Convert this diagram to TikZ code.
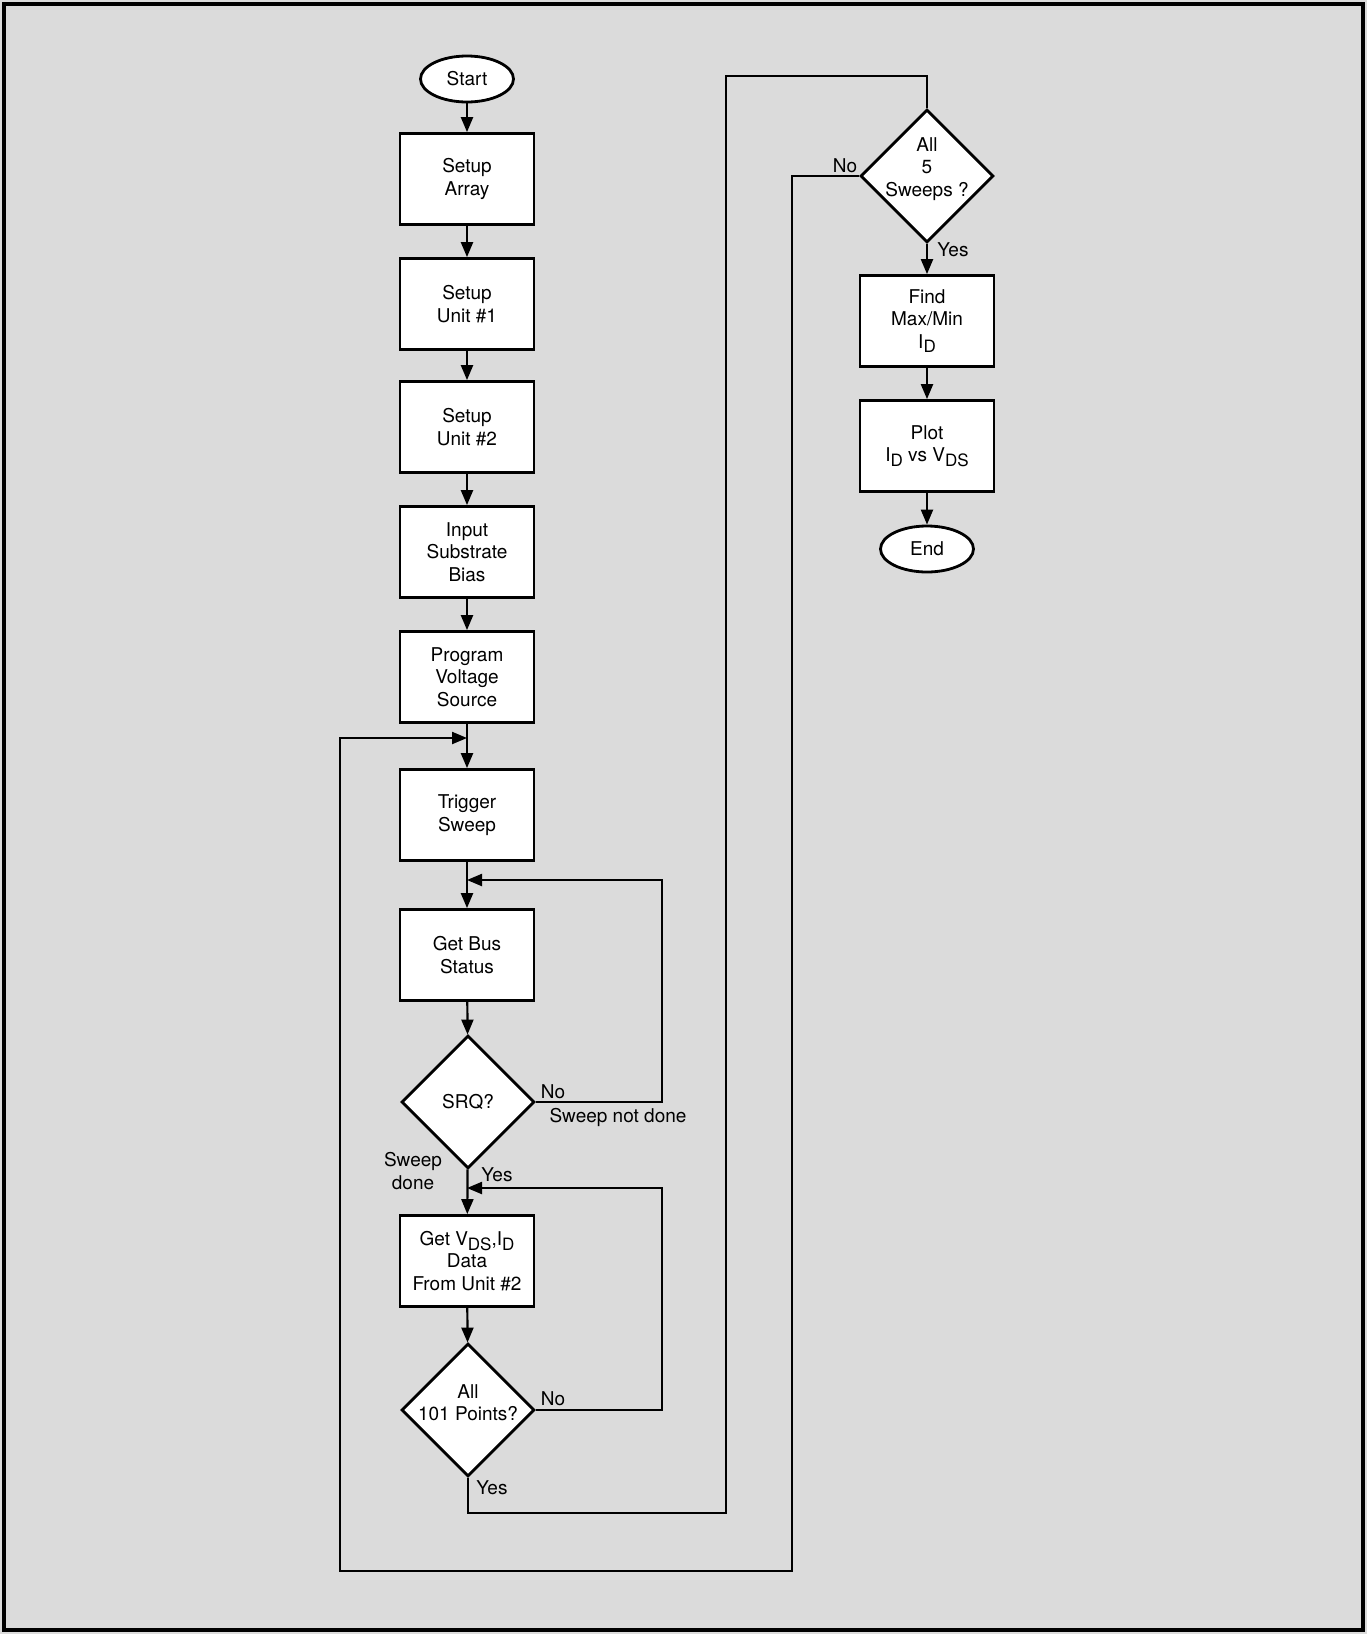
\documentclass[tikz,border=0pt]{standalone}
\usepackage{fontspec}
\setmainfont{TeX Gyre Heros}
\usetikzlibrary{shapes.geometric, arrows.meta}

\newcommand{\lowsub}[1]{\raisebox{-0.45ex}{\fontsize{8.5}{8.5}\selectfont #1}}

\begin{document}
\begin{tikzpicture}[
  x=0.5pt, y=-0.5pt,
  >={Triangle[length=7.5pt, width=6pt]},
  flow/.style={->, line width=1.1pt},
  wire/.style={line width=1.1pt},
  box/.style={rectangle, draw, fill=white, line width=1.4pt, minimum width=67pt, minimum height=45.5pt, align=center, inner sep=0pt},
  term/.style={ellipse, draw, fill=white, line width=1.4pt, minimum width=46.5pt, minimum height=23pt, inner sep=0pt},
  decision/.style={diamond, draw, fill=white, line width=1.4pt, minimum width=66.5pt, minimum height=66.5pt, inner sep=-14pt, align=center},
  tlabel/.style={inner sep=0pt, align=center},
  font=\fontsize{9.5}{11.2}\selectfont
]

% --- Background and frame ---
\fill[black!14] (0,0) rectangle (1367,1634);
\draw[line width=2pt] (4,4) rectangle (1363,1630);

% --- Nodes ---
\node[term] (start) at (467,79) {Start};
\node[box] (array) at (467,179) {Setup\\Array};
\node[box] (unit1) at (467,304) {Setup\\Unit \#1};
\node[box] (unit2) at (467,427) {Setup\\Unit \#2};
\node[box] (bias) at (467,552) {Input\\Substrate\\Bias};
\node[box] (prog) at (467,677) {Program\\Voltage\\Source};
\node[box] (trig) at (467,815) {Trigger\\Sweep};
\node[box] (bus) at (467,955) {Get Bus\\Status};
\node[decision] (srq) at (468,1102) {SRQ?};
\node[box] (getd) at (467,1261) {Get V\lowsub{DS},I\lowsub{D}\\Data\\From Unit \#2};
\node[decision, text depth=7.5pt] (pts) at (468,1410) {All\\101 Points?};

\node[decision, text depth=9pt] (sweeps) at (927,176) {All\\5\\Sweeps ?};
\node[box] (find) at (927,321) {Find\\Max/Min\\I\lowsub{D}};
\node[box] (plot) at (927,446) {Plot\\I\lowsub{D} vs V\lowsub{DS}};
\node[term] (done) at (927,549) {End};

% --- Corner points of the loops ---
\coordinate (srqloop) at (662,880);
\coordinate (busin) at (467,880);
\coordinate (ptsloop) at (662,1188);
\coordinate (getin) at (467,1188);
\coordinate (yesA) at (726,1513);
\coordinate (yesB) at (927,76);
\coordinate (noA) at (792,1571);
\coordinate (noB) at (340,738);
\coordinate (trigin) at (467,738);

% --- Edges ---
\draw[flow] (start) -- (array);
\draw[flow] (array) -- (unit1);
\draw[flow] (unit1) -- (unit2);
\draw[flow] (unit2) -- (bias);
\draw[flow] (bias) -- (prog);
\draw[flow] (prog) -- (trig);
\draw[flow] (trig) -- (bus);
\draw[flow] (bus) -- (srq);
\draw[flow] (srq) -- (getd);
\draw[flow] (getd) -- (pts);

% sweep not done: back above Get Bus Status
\draw[flow] (srq.east) -| (srqloop) -- (busin);

% more points to read: back above the data box
\draw[flow] (pts.east) -| (ptsloop) -- (getin);

% all points read: up to the sweep counter
\draw[wire] (pts.south) |- (yesA) |- (yesB) -- (sweeps.north);

% next sweep: round the outside back to Trigger Sweep
\draw[flow] (sweeps.west) -| (noA) -| (noB) -- (trigin);

\draw[flow] (sweeps) -- (find);
\draw[flow] (find) -- (plot);
\draw[flow] (plot) -- (done);

% --- Labels ---
\node[tlabel] at (845,166) {No};
\node[tlabel] at (953,250) {Yes};
\node[tlabel] at (553,1092) {No};
\node[tlabel] at (618,1117) {Sweep not done};
\node[tlabel] at (413,1171) {Sweep\\done};
\node[tlabel] at (497,1175) {Yes};
\node[tlabel] at (553,1399) {No};
\node[tlabel] at (492,1488) {Yes};

\end{tikzpicture}
\end{document}
